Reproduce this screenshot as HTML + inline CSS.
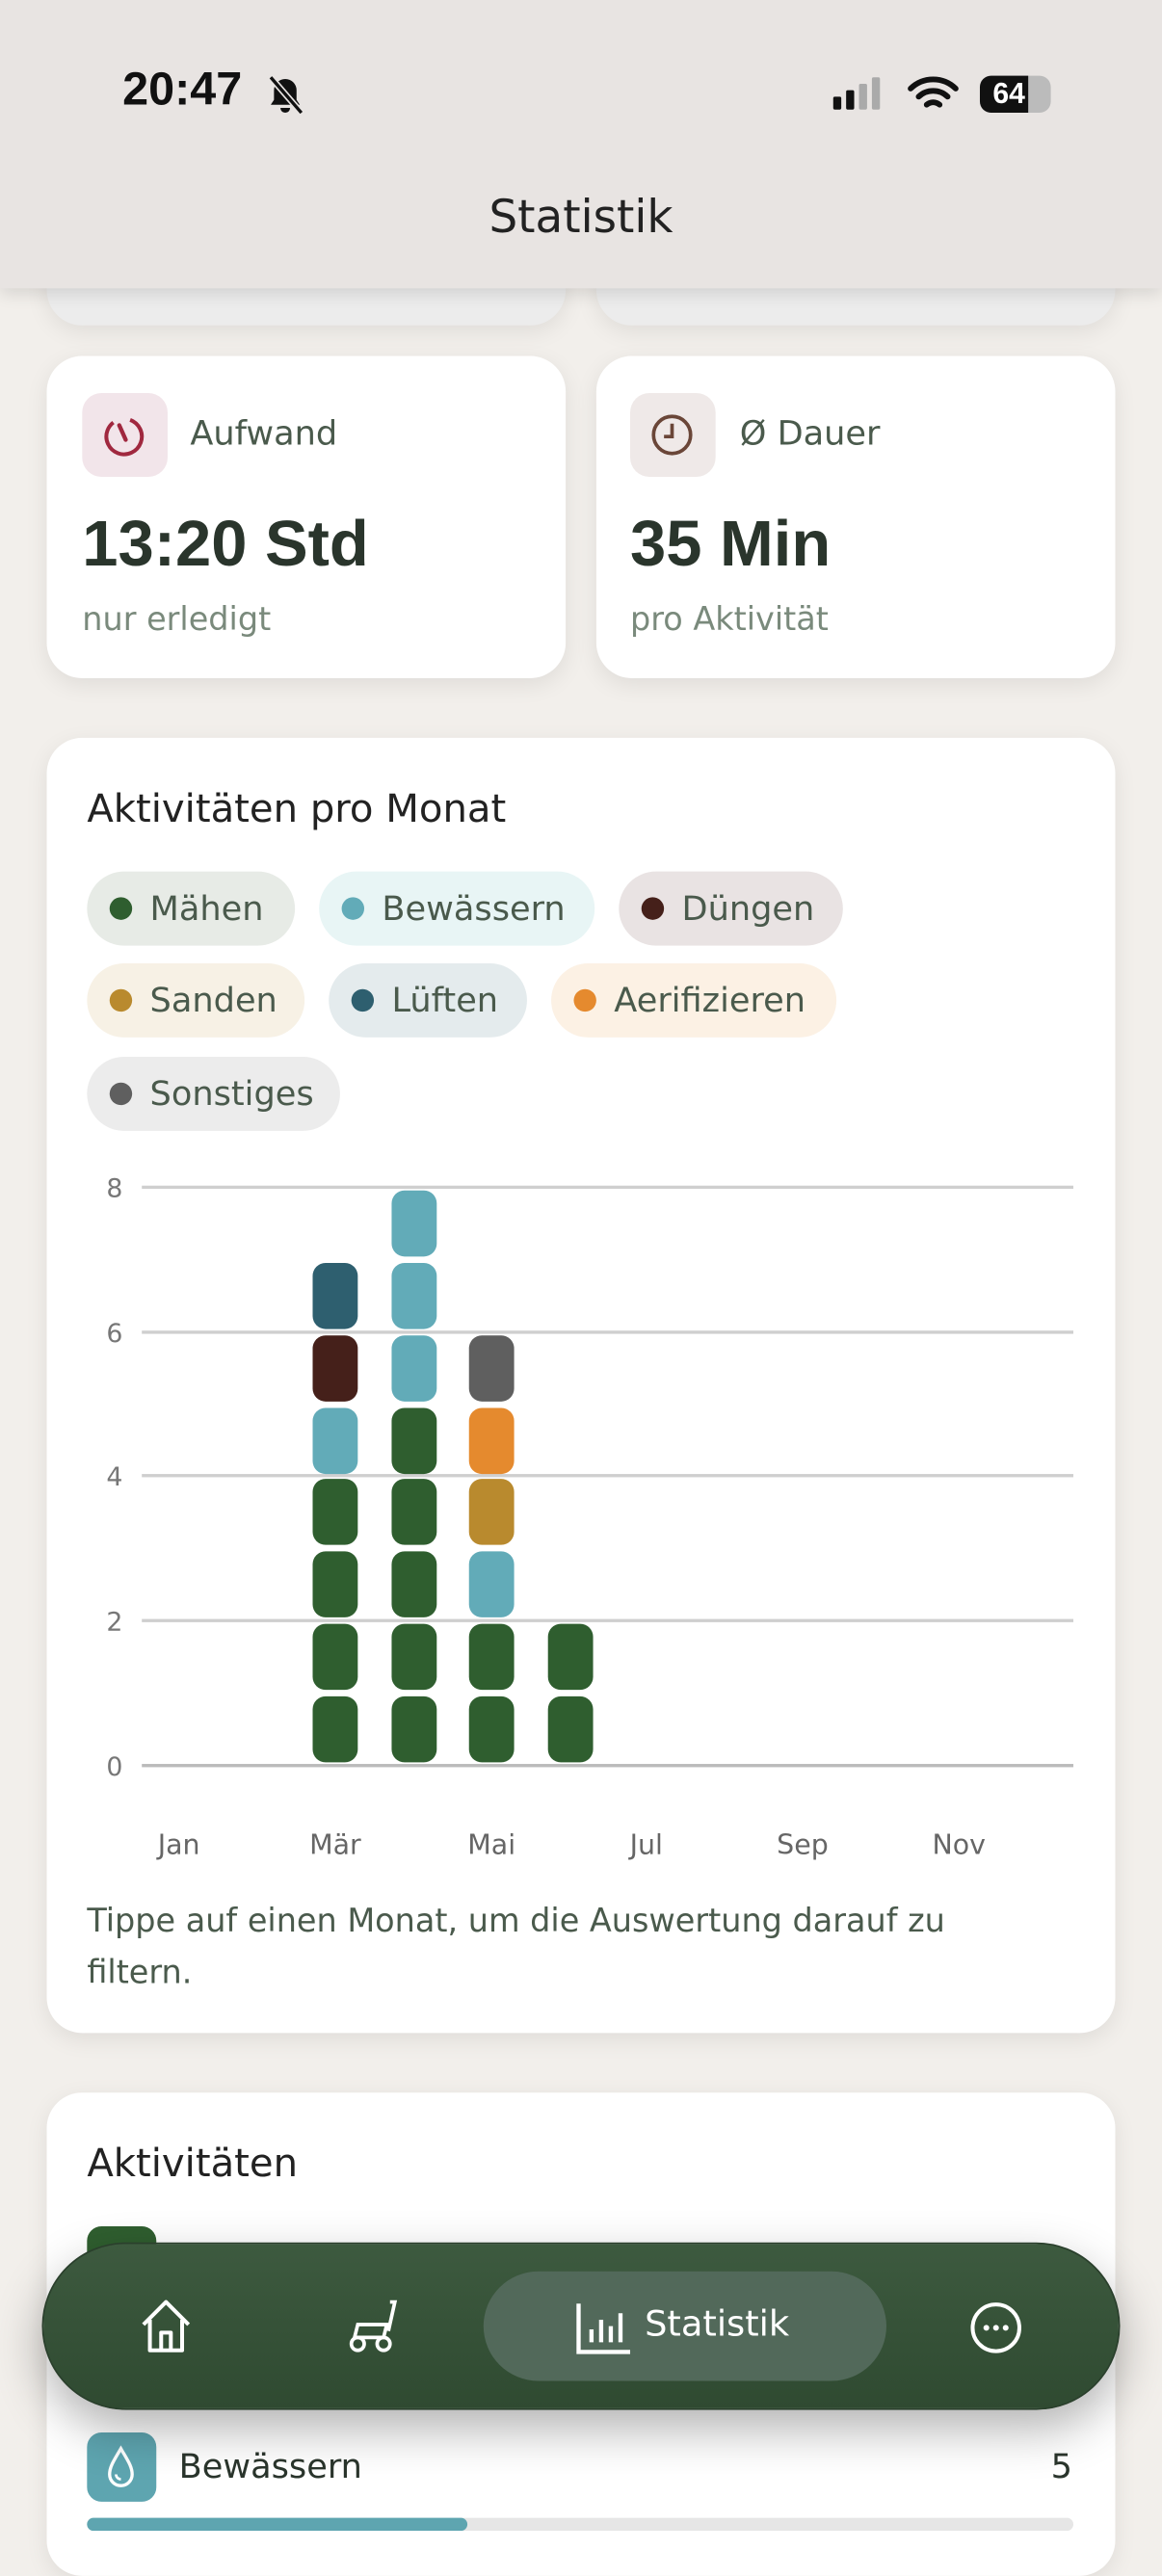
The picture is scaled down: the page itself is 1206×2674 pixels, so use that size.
<!DOCTYPE html><html><head><meta charset="utf-8"><style>
*{margin:0;padding:0;box-sizing:border-box}
html,body{width:1206px;height:2622px;overflow:hidden;background:#f2efeb}
#s{position:absolute;left:0;top:0;width:721px;height:1568px;transform:scale(1.67268,1.6722);transform-origin:0 0;font-family:"DejaVu Sans",sans-serif;color:#2d3a30;background:#f2efeb}
.a{position:absolute}
.card{position:absolute;background:#fff;border-radius:22px;box-shadow:0 4px 14px rgba(0,0,0,.08)}
.chip{position:absolute;height:46px;border-radius:23px;font-size:21px;color:#4a5a4c;line-height:46px;padding-left:39px;white-space:nowrap}
.chip i{position:absolute;left:14px;top:16px;width:14px;height:14px;border-radius:50%}
.g{position:absolute;left:88px;width:578px;height:1.5px;background:#cfcfcf}
.yl{position:absolute;left:66px;width:24px;font-size:16px;color:#777}
.xl{position:absolute;top:1136px;font-size:17px;color:#666;width:60px;text-align:center}
.b{position:absolute;width:28px;height:41px;border-radius:8px}
.n{font-family:"Liberation Sans",sans-serif}
</style></head><body><div id="s">
<div class="card" style="left:29px;top:150px;width:322px;height:52px;background:#ececec"></div>
<div class="card" style="left:370px;top:150px;width:322px;height:52px;background:#ececec"></div>
<div class="a" style="left:0;top:0;width:721px;height:179px;background:#e8e4e2;box-shadow:0 3px 10px rgba(0,0,0,.12)"></div>
<div class="a n" style="left:76px;top:40px;font-size:29px;font-weight:bold;color:#111">20:47</div>
<svg class="a" style="left:165px;top:46px" width="24" height="26" viewBox="0 0 24 26"><path d="M12 3a7 7 0 0 0-7 7v6l-2 3h18l-2-3v-6a7 7 0 0 0-7-7zM9 21a3 3 0 0 0 6 0" fill="#111"/><path d="M3 2l19 22" stroke="#e8e4e2" stroke-width="4"/><path d="M3 2l19 22" stroke="#111" stroke-width="2"/></svg>
<div class="a" style="left:517px;top:48px;width:30px;height:20px">
<div class="a" style="left:0;top:12px;width:5px;height:8px;background:#111;border-radius:1px"></div>
<div class="a" style="left:8px;top:8px;width:5px;height:12px;background:#111;border-radius:1px"></div>
<div class="a" style="left:16px;top:4px;width:5px;height:16px;background:#aaa;border-radius:1px"></div>
<div class="a" style="left:24px;top:0;width:5px;height:20px;background:#aaa;border-radius:1px"></div></div>
<svg class="a" style="left:563px;top:46px" width="32" height="24" viewBox="0 0 32 24"><path d="M2 9a20 20 0 0 1 28 0M7 14a13 13 0 0 1 18 0M12 19a6 6 0 0 1 8 0" stroke="#111" stroke-width="3.5" fill="none" stroke-linecap="round"/></svg>
<div class="a" style="left:608px;top:47px;width:44px;height:23px;border-radius:7px;background:#bbb"></div>
<div class="a n" style="left:608px;top:47px;width:30px;height:23px;border-radius:7px 0 0 7px;background:#111;color:#fff;font-size:18px;font-weight:bold;line-height:23px;padding-left:8px">64</div>
<div class="a" style="left:0;top:118px;width:721px;text-align:center;font-size:28px;color:#222">Statistik</div>

<div class="card" style="left:29px;top:221px;width:322px;height:200px"></div>
<div class="card" style="left:370px;top:221px;width:322px;height:200px"></div>
<div class="a" style="left:51px;top:244px;width:53px;height:52px;border-radius:12px;background:#f2e5ea"></div>
<svg class="a" style="left:63px;top:256px" width="28" height="28" viewBox="0 0 28 28"><circle cx="14" cy="15" r="11" stroke="#a0283f" stroke-width="2.4" fill="none" stroke-dasharray="58 11" transform="rotate(-70 14 15)"/><path d="M11 8l4 9" stroke="#a0283f" stroke-width="2.6" stroke-linecap="round"/></svg>
<div class="a" style="left:118px;top:257px;font-size:21px;color:#4a5a4c">Aufwand</div>
<div class="a n" style="left:51px;top:316px;font-size:40px;font-weight:bold;color:#2a352c">13:20 Std</div>
<div class="a" style="left:51px;top:372px;font-size:20px;color:#7a8a7c">nur erledigt</div>
<div class="a" style="left:391px;top:244px;width:53px;height:52px;border-radius:12px;background:#efe9e8"></div>
<svg class="a" style="left:403px;top:256px" width="28" height="28" viewBox="0 0 28 28"><circle cx="14" cy="14" r="11.5" stroke="#6a4638" stroke-width="2.2" fill="none"/><path d="M14 7v8h-5" stroke="#6a4638" stroke-width="2.2" fill="none"/></svg>
<div class="a" style="left:459px;top:257px;font-size:21px;color:#4a5a4c">Ø Dauer</div>
<div class="a n" style="left:391px;top:316px;font-size:40px;font-weight:bold;color:#2a352c">35 Min</div>
<div class="a" style="left:391px;top:372px;font-size:20px;color:#7a8a7c">pro Aktivität</div>

<div class="card" style="left:29px;top:458px;width:663px;height:804px"></div>
<div class="a" style="left:54px;top:488px;font-size:24px;color:#222">Aktivitäten pro Monat</div>
<div class="chip" style="left:54px;top:541px;width:129px;background:#e7ebe6"><i style="background:#2f5e2f"></i>Mähen</div>
<div class="chip" style="left:198px;top:541px;width:171px;background:#e8f5f5"><i style="background:#62abb8"></i>Bewässern</div>
<div class="chip" style="left:384px;top:541px;width:139px;background:#e9e3e3"><i style="background:#45201a"></i>Düngen</div>
<div class="chip" style="left:54px;top:598px;width:135px;background:#f7f1e5"><i style="background:#b98a2e"></i>Sanden</div>
<div class="chip" style="left:204px;top:598px;width:123px;background:#e4ebed"><i style="background:#2e5f6f"></i>Lüften</div>
<div class="chip" style="left:342px;top:598px;width:177px;background:#fcf1e4"><i style="background:#e58a2e"></i>Aerifizieren</div>
<div class="chip" style="left:54px;top:656px;width:157px;background:#ececec"><i style="background:#5f5f5f"></i>Sonstiges</div>

<div class="g" style="top:736px"></div><div class="g" style="top:826px"></div><div class="g" style="top:915px"></div><div class="g" style="top:1005px"></div><div class="g" style="top:1095px;background:#bbb"></div>
<div class="yl" style="top:728px">8</div><div class="yl" style="top:818px">6</div><div class="yl" style="top:907px">4</div><div class="yl" style="top:997px">2</div><div class="yl" style="top:1087px">0</div>
<div class="xl" style="left:81px">Jan</div><div class="xl" style="left:178px">Mär</div><div class="xl" style="left:275px">Mai</div><div class="xl" style="left:371px">Jul</div><div class="xl" style="left:468px">Sep</div><div class="xl" style="left:565px">Nov</div>

<div class="b" style="left:194px;top:1053px;background:#2f5e2f"></div>
<div class="b" style="left:194px;top:1008px;background:#2f5e2f"></div>
<div class="b" style="left:194px;top:963px;background:#2f5e2f"></div>
<div class="b" style="left:194px;top:918px;background:#2f5e2f"></div>
<div class="b" style="left:194px;top:874px;background:#62abb8"></div>
<div class="b" style="left:194px;top:829px;background:#45201a"></div>
<div class="b" style="left:194px;top:784px;background:#2e5f6f"></div>
<div class="b" style="left:243px;top:1053px;background:#2f5e2f"></div>
<div class="b" style="left:243px;top:1008px;background:#2f5e2f"></div>
<div class="b" style="left:243px;top:963px;background:#2f5e2f"></div>
<div class="b" style="left:243px;top:918px;background:#2f5e2f"></div>
<div class="b" style="left:243px;top:874px;background:#2f5e2f"></div>
<div class="b" style="left:243px;top:829px;background:#62abb8"></div>
<div class="b" style="left:243px;top:784px;background:#62abb8"></div>
<div class="b" style="left:243px;top:739px;background:#62abb8"></div>
<div class="b" style="left:291px;top:1053px;background:#2f5e2f"></div>
<div class="b" style="left:291px;top:1008px;background:#2f5e2f"></div>
<div class="b" style="left:291px;top:963px;background:#62abb8"></div>
<div class="b" style="left:291px;top:918px;background:#b98a2e"></div>
<div class="b" style="left:291px;top:874px;background:#e58a2e"></div>
<div class="b" style="left:291px;top:829px;background:#5f5f5f"></div>
<div class="b" style="left:340px;top:1053px;background:#2f5e2f"></div>
<div class="b" style="left:340px;top:1008px;background:#2f5e2f"></div>

<div class="a" style="left:54px;top:1176px;width:600px;font-size:20px;line-height:32px;color:#4a5a4c">Tippe auf einen Monat, um die Auswertung darauf zu filtern.</div>

<div class="card" style="left:29px;top:1299px;width:663px;height:300px"></div>
<div class="a" style="left:54px;top:1329px;font-size:24px;color:#222">Aktivitäten</div>
<div class="a" style="left:54px;top:1382px;width:43px;height:43px;border-radius:9px;background:#2f5e2f"></div>
<div class="a" style="left:54px;top:1510px;width:43px;height:43px;border-radius:9px;background:#5ea5b0"></div>
<svg class="a" style="left:64px;top:1518px" width="22" height="28" viewBox="0 0 22 28"><path d="M11 2C7 9 4 13 4 18a7 7 0 0 0 14 0c0-5-3-9-7-16z" stroke="#fff" stroke-width="2" fill="none"/><path d="M8 18a3 3 0 0 0 3 3" stroke="#fff" stroke-width="1.6" fill="none"/></svg>
<div class="a" style="left:111px;top:1519px;font-size:21px;color:#2a352c">Bewässern</div>
<div class="a" style="left:652px;top:1519px;font-size:21px;color:#2a352c">5</div>
<div class="a" style="left:54px;top:1563px;width:612px;height:8px;border-radius:4px;background:#e6e6e6"></div>
<div class="a" style="left:54px;top:1563px;width:236px;height:8px;border-radius:4px;background:#5ea5b0"></div>

<div class="a" style="left:26px;top:1392px;width:669px;height:104px;border-radius:52px;background:linear-gradient(#3d5a3f,#2f4a31);box-shadow:0 12px 30px rgba(0,0,0,.3);border:1px solid #2a3f2c"></div>
<div class="a" style="left:300px;top:1410px;width:250px;height:68px;border-radius:34px;background:#52695a"></div>
<svg class="a" style="left:86px;top:1426px" width="34" height="36" viewBox="0 0 34 36"><path d="M3 17L17 3l14 14M7 14v19h20V14M14 33V22h6v11" stroke="#fff" stroke-width="2.4" fill="none" stroke-linejoin="round"/></svg>
<svg class="a" style="left:212px;top:1426px" width="40" height="36" viewBox="0 0 40 36"><path d="M30 3h3l-4 18M10 17h18l-2 8H8z" stroke="#fff" stroke-width="2.2" fill="none"/><circle cx="10" cy="29" r="4" stroke="#fff" stroke-width="2.2" fill="none"/><circle cx="26" cy="29" r="4" stroke="#fff" stroke-width="2.2" fill="none"/></svg>
<svg class="a" style="left:357px;top:1428px" width="36" height="34" viewBox="0 0 36 34"><path d="M2 2v30h32" stroke="#fff" stroke-width="2.6" fill="none"/><path d="M10 18v8M16 12v14M22 16v10M28 8v18" stroke="#fff" stroke-width="2.6"/></svg>
<div class="a" style="left:400px;top:1431px;font-size:22px;color:#fff">Statistik</div>
<svg class="a" style="left:600px;top:1427px" width="36" height="36" viewBox="0 0 36 36"><circle cx="18" cy="18" r="14.5" stroke="#fff" stroke-width="2.4" fill="none"/><circle cx="12" cy="18" r="1.8" fill="#fff"/><circle cx="18" cy="18" r="1.8" fill="#fff"/><circle cx="24" cy="18" r="1.8" fill="#fff"/></svg>
</div></body></html>
